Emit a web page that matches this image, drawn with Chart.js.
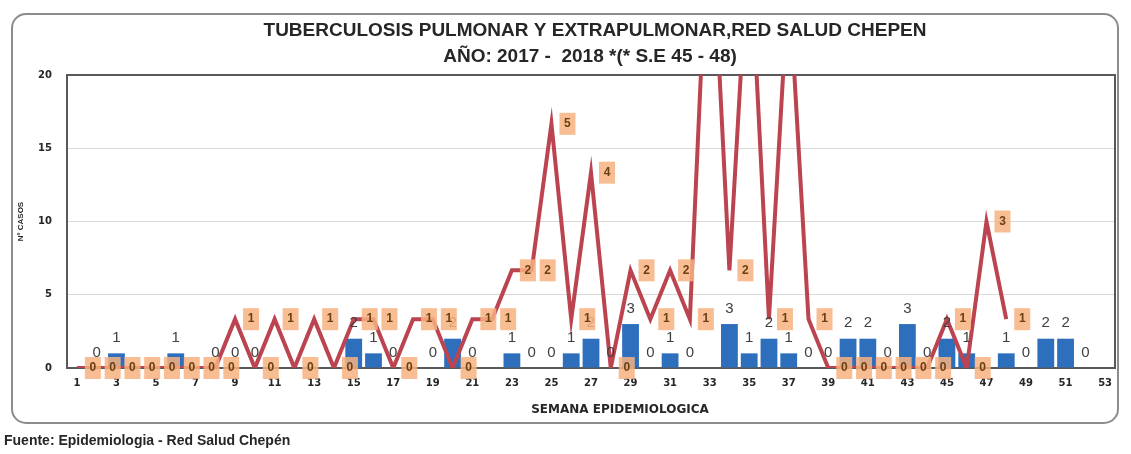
<!DOCTYPE html>
<html>
<head>
<meta charset="utf-8">
<script src="https://cdn.jsdelivr.net/npm/chart.js@4/dist/chart.umd.min.js"></script>
<style>
  body { margin: 0; background: #fff; }
  #wrap { width: 1131px; height: 454px; position: relative; }
</style>
</head>
<body>
<div id="wrap"><canvas id="myChart"></canvas></div>
<script>
// semanas epidemiologicas
var semanas = ['1','2','3','4','5','6','7','8','9','10','11','12','13','14','15','16','17','18','19','20',
  '21','22','23','24','25','26','27','28','29','30','31','32','33','34','35','36','37','38','39','40',
  '41','42','43','44','45','46','47','48','49','50','51','52','53'];

// 2017 (barras)
var casos2017 = [null,0,1,null,null,1,null,0,0,0,null,null,null,null,2,1,0,null,0,2,
  0,null,1,0,0,1,2,0,3,0,1,0,null,3,1,2,1,0,0,2,
  2,0,3,0,2,1,null,1,0,2,2,0,null];

// 2018 (linea, eje secundario) hasta S.E 48
var casos2018 = [0,0,0,0,0,0,0,0,1,0,1,0,1,0,1,1,0,1,1,0,
  1,1,2,2,5,1,4,0,2,1,2,1,10,2,9,1,8,1,0,0,
  0,0,0,0,1,0,3,1];

var ticksY = [0, 5, 10, 15, 20];

var titulo1 = 'TUBERCULOSIS PULMONAR Y EXTRAPULMONAR,RED SALUD CHEPEN';
var titulo2 = 'AÑO: 2017 -  2018 *(* S.E 45 - 48)';
var tituloX = 'SEMANA EPIDEMIOLOGICA';
var fuente = 'Fuente: Epidemiologia - Red Salud Chepén';

var marco = {
  id: 'marco',
  beforeDraw: function (chart) {
    var ctx = chart.ctx;
    ctx.save();
    ctx.fillStyle = '#fff';
    ctx.fillRect(0, 0, chart.width, chart.height);
    ctx.strokeStyle = '#8c8c8c';
    ctx.lineWidth = 2;
    ctx.beginPath();
    ctx.roundRect(12, 14, 1106, 409, 14);
    ctx.stroke();
    ctx.restore();
  },
  beforeDatasetsDraw: function (chart) {
    var ctx = chart.ctx;
    var a = chart.chartArea;
    ctx.save();
    ctx.strokeStyle = '#595959';
    ctx.lineWidth = 2;
    ctx.strokeRect(a.left, a.top, a.right - a.left, a.bottom - a.top);
    ctx.restore();
  },
  afterDraw: function (chart) {
    var ctx = chart.ctx;
    ctx.save();
    ctx.fillStyle = '#262626';
    ctx.textAlign = 'center';
    ctx.textBaseline = 'middle';
    ctx.font = 'bold 19px "Liberation Sans"';
    ctx.fillText(titulo1, 595, 31);
    ctx.fillText(titulo2, 590, 57);
    ctx.font = 'bold 12px "DejaVu Sans"';
    ctx.fillText(tituloX, 620, 410);
    ctx.textAlign = 'left';
    ctx.font = 'bold 14px "Liberation Sans"';
    ctx.fillText(fuente, 4, 441);
    ctx.restore();
  }
};

var etiquetas = {
  id: 'etiquetas',
  afterDatasetsDraw: function (chart) {
    var ctx = chart.ctx;
    var area = chart.chartArea;
    ctx.save();
    // valores 2017 sobre las barras
    var metaBar = chart.getDatasetMeta(0);
    ctx.font = '15px "Liberation Sans"';
    ctx.fillStyle = '#404040';
    ctx.textAlign = 'center';
    ctx.textBaseline = 'bottom';
    metaBar.data.forEach(function (el, i) {
      var v = casos2017[i];
      if (v === null) return;
      ctx.fillText(String(v), el.x, el.y - 8);
    });
    // valores 2018 en cajas naranjas
    var metaLin = chart.getDatasetMeta(1);
    ctx.font = 'bold 12px "Liberation Sans"';
    ctx.textBaseline = 'middle';
    metaLin.data.forEach(function (pt, i) {
      var v = casos2018[i];
      if (v === null || pt.y < area.top) return;
      var cx = pt.x + 16;
      ctx.fillStyle = 'rgba(247, 178, 128, 0.85)';
      ctx.fillRect(cx - 8, pt.y - 11, 16, 22);
      ctx.fillStyle = '#6b4010';
      ctx.fillText(String(v), cx, pt.y);
    });
    ctx.restore();
  }
};

var ctx = document.getElementById('myChart').getContext('2d');
var myChart = new Chart(ctx, {
  type: 'bar',
  data: {
    labels: semanas,
    datasets: [{
      label: '2017',
      data: casos2017,
      backgroundColor: '#2e6fbd',
      barPercentage: 0.85,
      categoryPercentage: 1,
      yAxisID: 'y',
      order: 2
    }, {
      type: 'line',
      label: '2018',
      data: casos2018,
      borderColor: '#bb4450',
      borderWidth: 4,
      pointRadius: 0,
      tension: 0,
      yAxisID: 'y2',
      order: 1
    }]
  },
  options: {
    responsive: true,
    maintainAspectRatio: false,
    animation: false,
    layout: { padding: { top: 75, right: 16, bottom: 0, left: 0 } },
    plugins: {
      legend: { display: false },
      tooltip: { enabled: false }
    },
    scales: {
      x: {
        grid: { display: false, drawTicks: false },
        border: { display: false },
        ticks: {
          autoSkip: false,
          maxRotation: 0,
          padding: 9,
          color: '#262626',
          font: { family: 'DejaVu Sans', size: 10, weight: 'bold' },
          callback: function (val, idx) {
            return idx % 2 === 0 ? semanas[idx] : '';
          }
        },
        afterFit: function (scale) { scale.height = 86; }
      },
      y: {
        min: 0,
        max: 20,
        afterBuildTicks: function (scale) {
          scale.ticks = ticksY.map(function (v) { return { value: v }; });
        },
        grid: { color: '#d9d9d9', drawTicks: false },
        border: { display: false },
        ticks: {
          padding: 15,
          color: '#262626',
          font: { family: 'DejaVu Sans', size: 10, weight: 'bold' }
        },
        title: {
          display: true,
          text: 'Nº CASOS',
          color: '#262626',
          font: { family: 'Liberation Sans', size: 8, weight: 'bold' },
          padding: { top: 16, bottom: 0 }
        },
        afterFit: function (scale) { scale.width = 67; }
      },
      y2: {
        min: 0,
        max: 6,
        display: false,
        position: 'right'
      }
    }
  },
  plugins: [marco, etiquetas]
});
</script>
</body>
</html>
